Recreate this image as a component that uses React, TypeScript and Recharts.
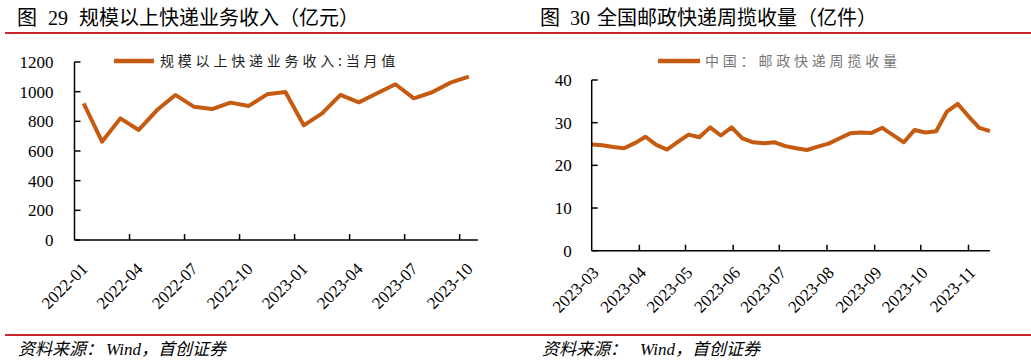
import React from 'react';
import { LineChart, Line, XAxis, YAxis } from 'recharts';

// ---------- Left chart: 规模以上快递业务收入（亿元） ----------
const revenueMonths = [
  '2022-01', '2022-02', '2022-03', '2022-04', '2022-05', '2022-06', '2022-07', '2022-08',
  '2022-09', '2022-10', '2022-11', '2022-12', '2023-01', '2023-02', '2023-03', '2023-04',
  '2023-05', '2023-06', '2023-07', '2023-08', '2023-09', '2023-10',
];
const revenueValues = [
  921, 663, 820, 742, 876, 978, 899, 883, 926, 904, 982, 998,
  773, 854, 978, 928, 989, 1050, 955, 996, 1061, 1101,
];
const revenueYTicks = [0, 200, 400, 600, 800, 1000, 1200];
const revenueLabelStep = 3;
const revenueSeriesName = '规模以上快递业务收入:当月值';

// ---------- Right chart: 全国邮政快递周揽收量（亿件） ----------
const weeklyStartDate = '2023-03-01';
const weeklyValues = [
  24.9, 24.7, 24.3, 24.0, 25.2, 26.7, 24.8, 23.7, 25.5, 27.2, 26.6, 28.9, 27.0,
  28.9, 26.3, 25.4, 25.2, 25.4, 24.5, 24.0, 23.6, 24.4, 25.1, 26.3, 27.5, 27.7,
  27.6, 28.8, 27.1, 25.4, 28.3, 27.7, 28.0, 32.6, 34.4, 31.5, 28.8, 28.0,
];
const weeklyMonthLabels = [
  '2023-03', '2023-04', '2023-05', '2023-06', '2023-07', '2023-08', '2023-09', '2023-10', '2023-11',
];
const weeklyYTicks = [0, 10, 20, 30, 40];
const weeklySeriesName = '中国：邮政快递周揽收量';

const LINE_COLOR = '#C55A11';
const RED = '#C8242B';
const SERIF = '"Liberation Serif", "Times New Roman", serif';
const CJK = '"Noto Sans CJK SC", "Noto Sans", sans-serif';

const DAY = 86400000;
const dayOffset = (d: string) =>
  Math.round((Date.parse(d + 'T00:00:00Z') - Date.parse(weeklyStartDate + 'T00:00:00Z')) / DAY);

const revenueData = revenueValues.map((v, i) => ({ idx: i, month: revenueMonths[i], value: v }));
const revenueBoundaryTicks: number[] = [];
for (let k = revenueLabelStep; k < revenueMonths.length; k += revenueLabelStep) {
  revenueBoundaryTicks.push(k - 0.5);
}
const revenueLabelTicks: number[] = [];
for (let k = 0; k < revenueMonths.length; k += revenueLabelStep) revenueLabelTicks.push(k);
const revenueXTicks = [...revenueBoundaryTicks, ...revenueLabelTicks].sort((a, b) => a - b);

const weeklyData = weeklyValues.map((v, i) => ({ day: i * 7, value: v }));
const weeklyMonthTicks = weeklyMonthLabels.map((m) => dayOffset(m + '-01'));
const weeklyLastDay = (weeklyValues.length - 1) * 7;

const LeftXTick = (props: any) => {
  const { x, y, payload } = props;
  const v = payload.value as number;
  if (Number.isInteger(v)) {
    const ax = x + 5;
    const ay = y + 30;
    return (
      <text
        x={ax}
        y={ay}
        transform={`rotate(-45 ${ax} ${ay})`}
        textAnchor="end"
        fontFamily={SERIF}
        fontSize={17}
        fill="#000"
      >
        {revenueMonths[v]}
      </text>
    );
  }
  return <line x1={x} x2={x} y1={y} y2={y - 6} stroke="#000" strokeWidth={1.5} />;
};

const RightXTick = (props: any) => {
  const { x, y, payload } = props;
  const v = payload.value as number;
  const i = weeklyMonthTicks.indexOf(v);
  const ax = x + 8;
  const ay = y + 23;
  return (
    <g>
      {i > 0 && <line x1={x} x2={x} y1={y} y2={y - 6} stroke="#000" strokeWidth={1.5} />}
      <text
        x={ax}
        y={ay}
        transform={`rotate(-45 ${ax} ${ay})`}
        textAnchor="end"
        fontFamily={SERIF}
        fontSize={17}
        fill="#000"
      >
        {weeklyMonthLabels[i]}
      </text>
    </g>
  );
};

const makeYTick = (gap: number) => (props: any) => {
  const { x, y, payload } = props;
  return (
    <g>
      <line x1={x} x2={x + 6} y1={y} y2={y} stroke="#000" strokeWidth={1.5} />
      <text x={x - gap} y={y} dy="0.35em" textAnchor="end" fontFamily={SERIF} fontSize={17} fill="#000">
        {payload.value}
      </text>
    </g>
  );
};
const LeftYTick = makeYTick(21);
const RightYTick = makeYTick(20);

export default function App() {
  return (
    <div style={{ position: 'absolute', left: 0, top: 0, width: 1031, height: 363, background: '#fff', overflow: 'hidden' }}>
      <svg width={1031} height={363} style={{ position: 'absolute', left: 0, top: 0 }}>
        {/* titles */}
        <text y={25} fontSize={20} fill="#000">
          <tspan x={17} fontFamily={CJK}>图</tspan>
          <tspan x={48} fontFamily={SERIF}>29</tspan>
          <tspan x={79} fontFamily={CJK}>规模以上快递业务收入（亿元）</tspan>
        </text>
        <text y={25} fontSize={20} fill="#000">
          <tspan x={540} fontFamily={CJK}>图</tspan>
          <tspan x={570} fontFamily={SERIF}>30</tspan>
          <tspan x={597} fontFamily={CJK}>全国邮政快递周揽收量（亿件）</tspan>
        </text>
        <line x1={5} x2={1031} y1={33} y2={33} stroke={RED} strokeWidth={2} />
        <line x1={5} x2={1031} y1={335} y2={335} stroke={RED} strokeWidth={2} />
        {/* footers */}
        <text y={355} fontSize={17} fontStyle="italic" fill="#000">
          <tspan x={18} fontFamily={CJK}>资料来源：</tspan>
          <tspan x={106} fontFamily={SERIF}>Wind</tspan>
          <tspan fontFamily={CJK}>，首创证券</tspan>
        </text>
        <text y={355} fontSize={17} fontStyle="italic" fill="#000">
          <tspan x={542} fontFamily={CJK}>资料来源：</tspan>
          <tspan x={640} fontFamily={SERIF}>Wind</tspan>
          <tspan fontFamily={CJK}>，首创证券</tspan>
        </text>
        {/* legends */}
        <line x1={114} x2={154} y1={61} y2={61} stroke={LINE_COLOR} strokeWidth={4.5} />
        <text x={160} y={61} dy="0.35em" fontFamily={CJK} fontSize={14} letterSpacing={3.8} fill="#222">
          {revenueSeriesName}
        </text>
        <line x1={658} x2={700} y1={61} y2={61} stroke={LINE_COLOR} strokeWidth={4.5} />
        <text x={705} y={61} dy="0.35em" fontFamily={CJK} fontSize={14} letterSpacing={3.8} fill="#777">
          {weeklySeriesName}
        </text>
      </svg>

      <div style={{ position: 'absolute', left: 0, top: 0 }}>
        <LineChart
          width={515}
          height={363}
          data={revenueData}
          margin={{ top: 62, left: 34.5, right: 37, bottom: 63 }}
        >
          <XAxis
            dataKey="idx"
            type="number"
            domain={[-0.5, revenueMonths.length - 0.5]}
            ticks={revenueXTicks}
            interval={0}
            tickSize={0}
            tickMargin={0}
            tickLine={false}
            axisLine={{ stroke: '#000', strokeWidth: 1.5 }}
            tick={<LeftXTick />}
            height={60}
          />
          <YAxis
            type="number"
            domain={[0, 1200]}
            ticks={revenueYTicks}
            interval={0}
            width={40}
            tickSize={0}
            tickMargin={0}
            tickLine={false}
            axisLine={{ stroke: '#000', strokeWidth: 1.5 }}
            tick={<LeftYTick />}
          />
          <Line
            type="linear"
            dataKey="value"
            name={revenueSeriesName}
            stroke={LINE_COLOR}
            strokeWidth={4}
            strokeLinejoin="round"
            dot={false}
            isAnimationActive={false}
          />
        </LineChart>
      </div>

      <div style={{ position: 'absolute', left: 520, top: 0 }}>
        <LineChart
          width={511}
          height={363}
          data={weeklyData}
          margin={{ top: 80, left: 31.7, right: 41, bottom: 52.3 }}
        >
          <XAxis
            dataKey="day"
            type="number"
            domain={[0, weeklyLastDay]}
            ticks={weeklyMonthTicks}
            interval={0}
            tickSize={0}
            tickMargin={0}
            tickLine={false}
            axisLine={{ stroke: '#000', strokeWidth: 1.5 }}
            tick={<RightXTick />}
            height={60}
          />
          <YAxis
            type="number"
            domain={[0, 40]}
            ticks={weeklyYTicks}
            interval={0}
            width={40}
            tickSize={0}
            tickMargin={0}
            tickLine={false}
            axisLine={{ stroke: '#000', strokeWidth: 1.5 }}
            tick={<RightYTick />}
          />
          <Line
            type="linear"
            dataKey="value"
            name={weeklySeriesName}
            stroke={LINE_COLOR}
            strokeWidth={4}
            strokeLinejoin="round"
            dot={false}
            isAnimationActive={false}
          />
        </LineChart>
      </div>
    </div>
  );
}
